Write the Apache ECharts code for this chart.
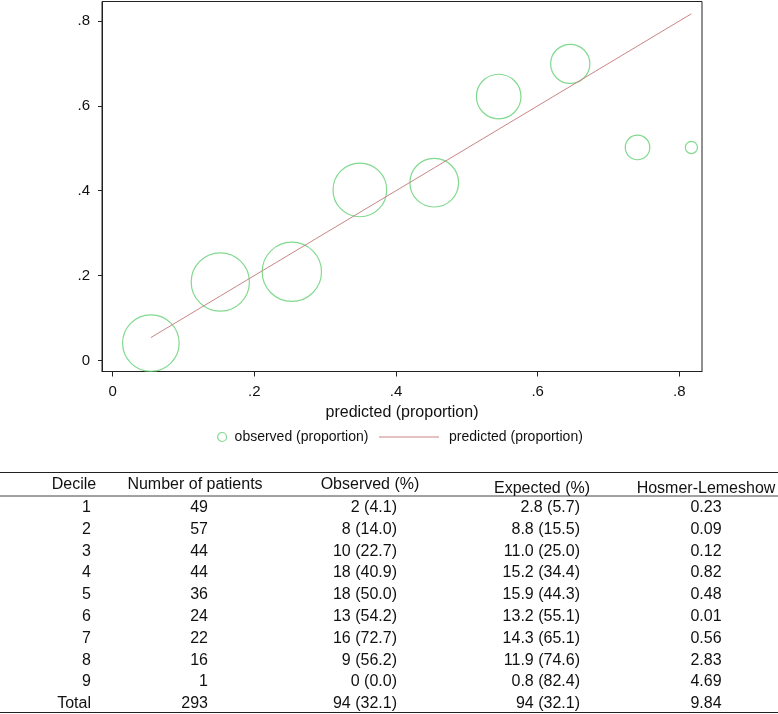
<!DOCTYPE html>
<html><head><meta charset="utf-8">
<script src="https://cdn.jsdelivr.net/npm/echarts@6/dist/echarts.min.js"></script>
<style>html,body{margin:0;padding:0;background:#fff}#c{width:778px;height:714px}</style>
</head><body><div id="c"></div>
<script>
// ---- plot data ----
const predictedProp = [0.054, 0.152, 0.253, 0.349, 0.454, 0.545, 0.646, 0.741, 0.817];
const observedProp  = [0.041, 0.185, 0.209, 0.402, 0.419, 0.622, 0.699, 0.502, 0.502];
const bubbleWeight  = [50, 53, 55, 45, 37, 31, 24, 9.4, 2.3];
const axisTicks     = [0, 0.2, 0.4, 0.6, 0.8];
const seriesNames   = ['observed (proportion)', 'predicted (proportion)'];
const xAxisTitle    = 'predicted (proportion)';

// ---- table data ----
const tableHeaders   = ['Decile', 'Number of patients', 'Observed (%)', 'Expected (%)', 'Hosmer-Lemeshow'];
const deciles        = ['1', '2', '3', '4', '5', '6', '7', '8', '9', 'Total'];
const patients       = [49, 57, 44, 44, 36, 24, 22, 16, 1, 293];
const observedN      = [2, 8, 10, 18, 18, 13, 16, 9, 0, 94];
const observedPct    = ['4.1', '14.0', '22.7', '40.9', '50.0', '54.2', '72.7', '56.2', '0.0', '32.1'];
const expectedN      = ['2.8', '8.8', '11.0', '15.2', '15.9', '13.2', '14.3', '11.9', '0.8', '94'];
const expectedPct    = ['5.7', '15.5', '25.0', '34.4', '44.3', '55.1', '65.1', '74.6', '82.4', '32.1'];
const hosmerLemeshow = ['0.23', '0.09', '0.12', '0.82', '0.48', '0.01', '0.56', '2.83', '4.69', '9.84'];

const FONT = '"Liberation Sans", Arial, Helvetica, sans-serif';
const TXT = '#111';
const GREEN = '#62cf72';
const ROSE = '#c98686';
const FRAME = '#222';

const chart = echarts.init(document.getElementById('c'), null, {renderer: 'canvas'});

const fmtTick = v => v === 0 ? '0' : (+v).toFixed(1).replace(/^0/, '');

// ---- table graphic built from the arrays ----
const graphic = [];
function hline(y, w, c) {
  graphic.push({type: 'line', shape: {x1: 0, y1: y, x2: 778, y2: y}, style: {stroke: c, lineWidth: w}, silent: true});
}
hline(472.5, 1.2, FRAME);
hline(496, 1, '#444');
hline(712.5, 1.2, FRAME);

const headerPos = [[74, 485], [195, 485], [370, 485], [542, 489], [706, 489]];
tableHeaders.forEach((h, i) => {
  graphic.push({type: 'text', x: headerPos[i][0], y: headerPos[i][1], silent: true,
    style: {text: h, font: '16px ' + FONT, fill: TXT, align: 'center', verticalAlign: 'middle'}});
});
const colX = [91, 208, 397, 580, 706];
const colAlign = ['right', 'right', 'right', 'right', 'center'];
deciles.forEach((d, r) => {
  const cells = [
    d,
    String(patients[r]),
    observedN[r] + ' (' + observedPct[r] + ')',
    expectedN[r] + ' (' + expectedPct[r] + ')',
    hosmerLemeshow[r]
  ];
  const y = 507.5 + r * 21.8;
  cells.forEach((t, c) => {
    graphic.push({type: 'text', x: colX[c], y: y, silent: true,
      style: {text: t, font: '16px ' + FONT, fill: TXT, align: colAlign[c], verticalAlign: 'middle'}});
  });
});

const option = {
  animation: false,
  backgroundColor: '#fff',
  textStyle: {fontFamily: FONT, color: TXT},
  grid: {left: 102, top: 1.5, width: 600, height: 370, show: true, borderColor: FRAME, borderWidth: 1, backgroundColor: 'transparent'},
  legend: [
    {data: [seriesNames[0]], left: 217, top: 430, padding: 0, icon: 'circle', itemWidth: 9, itemHeight: 9,
     itemStyle: {color: 'transparent', borderColor: GREEN, borderWidth: 1.2},
     textStyle: {fontSize: 14, color: TXT, fontFamily: FONT, padding: [0, 0, 0, 3]}},
    {data: [seriesNames[1]], left: 379, top: 430, padding: 0, icon: 'rect', itemWidth: 60, itemHeight: 1,
     itemStyle: {color: ROSE},
     textStyle: {fontSize: 14, color: TXT, fontFamily: FONT, padding: [0, 0, 0, 5]}}
  ],
  xAxis: {
    type: 'value', min: -0.015, max: 0.832,
    name: xAxisTitle, nameLocation: 'middle', nameGap: 33,
    nameTextStyle: {fontSize: 16, color: TXT, fontFamily: FONT},
    splitLine: {show: false},
    axisLine: {show: true, onZero: false, lineStyle: {color: FRAME, width: 1}},
    axisTick: {show: true, length: 5, customValues: axisTicks, lineStyle: {color: FRAME}},
    axisLabel: {customValues: axisTicks, formatter: fmtTick, fontSize: 15, color: TXT, margin: 13, fontFamily: FONT}
  },
  yAxis: {
    type: 'value', min: -0.026, max: 0.846,
    splitLine: {show: false},
    axisLine: {show: true, onZero: false, lineStyle: {color: FRAME, width: 1}},
    axisTick: {show: true, length: 4, customValues: axisTicks, lineStyle: {color: FRAME}},
    axisLabel: {customValues: axisTicks, formatter: fmtTick, fontSize: 15, color: TXT, margin: 12, fontFamily: FONT}
  },
  series: [
    {
      name: seriesNames[0], type: 'scatter',
      data: observedProp.map((y, i) => [predictedProp[i], y, bubbleWeight[i]]),
      symbol: 'circle',
      symbolSize: v => 8 * Math.sqrt(v[2]),
      itemStyle: {color: 'transparent', borderColor: GREEN, borderWidth: 1.2},
      emphasis: {disabled: true}, z: 2
    },
    {
      name: seriesNames[1], type: 'line',
      data: predictedProp.map(x => [x, x]),
      symbol: 'none', color: ROSE,
      lineStyle: {color: ROSE, width: 1},
      emphasis: {disabled: true}, z: 3
    }
  ],
  graphic: graphic
};
chart.setOption(option);
</script>
</body></html>
